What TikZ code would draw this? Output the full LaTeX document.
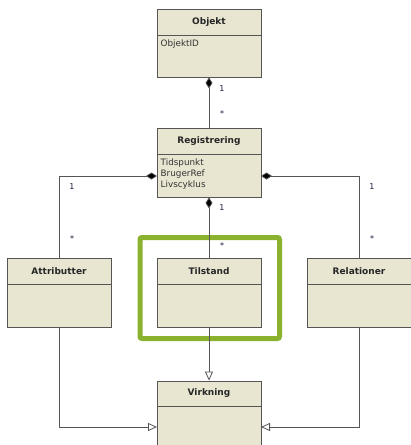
\documentclass[tikz,border=0pt]{standalone}
\usepackage{fontspec}
\setmainfont{DejaVu Sans}
\usetikzlibrary{arrows.meta}
\definecolor{boxfill}{HTML}{E8E5D1}
\definecolor{boxline}{HTML}{555555}
\definecolor{linecol}{HTML}{555555}
\definecolor{hilite}{HTML}{8AB22F}
\definecolor{multcol}{HTML}{1A1A40}
\tikzset{
  cls/.style={draw=boxline, fill=boxfill, line width=0.9pt, rectangle, inner sep=0pt, minimum width=104pt},
  sepline/.style={draw=boxline, line width=0.9pt},
  clstitle/.style={font=\fontsize{9}{10}\selectfont\bfseries, text=black!85, inner sep=0pt},
  attr/.style={font=\fontsize{8.8}{10}\selectfont, text=black!80, inner sep=0pt, anchor=west},
  mult/.style={font=\fontsize{8}{9}\selectfont, text=multcol, inner sep=0pt},
  comp/.style={draw=linecol, line width=0.8pt, {Diamond[length=11pt,width=7pt,fill=black]}-},
  gen/.style={draw=linecol, line width=0.8pt, -{Triangle[open,length=9pt,width=8pt,fill=white]}},
  hibox/.style={draw=hilite, line width=5pt, rounded corners=2pt}
}
\begin{document}
\begin{tikzpicture}[x=1pt,y=-1pt]
\useasboundingbox (0,0) rectangle (411,445);
\clip (0,0) rectangle (411,445);
\fill[white] (0,0) rectangle (411,445);

% highlight
\node[hibox, minimum width=139.5pt, minimum height=101pt] (hl) at (209.75,288) {};

% classes
\node[cls, minimum height=68pt] (obj) at (209,43) {};
\draw[sepline] (157,35) -- (261,35);
\node[clstitle] (objt) at (209,22) {Objekt};
\node[attr] (objid) at (160.5,44) {ObjektID};

\node[cls, minimum height=69pt] (reg) at (209,162.5) {};
\draw[sepline] (157,154) -- (261,154);
\node[clstitle] (regt) at (209,141) {Registrering};
\node[attr] (a1) at (160.5,163) {Tidspunkt};
\node[attr] (a2) at (160.5,174) {BrugerRef};
\node[attr] (a3) at (160.5,185) {Livscyklus};

\node[cls, minimum height=69pt] (att) at (59,292.5) {};
\draw[sepline] (7,284) -- (111,284);
\node[clstitle] (attt) at (59,271) {Attributter};

\node[cls, minimum height=69pt] (til) at (209,292.5) {};
\draw[sepline] (157,284) -- (261,284);
\node[clstitle] (tilt) at (209,271) {Tilstand};

\node[cls, minimum height=69pt] (rel) at (359,292.5) {};
\draw[sepline] (307,284) -- (411,284);
\node[clstitle] (relt) at (359,271) {Relationer};

\node[cls, minimum height=80pt] (vir) at (209,421) {};
\draw[sepline] (157,406) -- (261,406);
\node[clstitle] (virt) at (209,393.5) {Virkning};

% coordinates
\coordinate (regL) at (157,176);
\coordinate (regR) at (261,176);
\coordinate (cornL) at (59,176);
\coordinate (cornR) at (359,176);
\coordinate (virL) at (157,427);
\coordinate (virR) at (261,427);
\coordinate (botL) at (59,427);
\coordinate (botR) at (359,427);

% compositions
\draw[comp] (obj.south) -- (reg.north);
\draw[comp] (regL) -- (cornL) -- (att.north);
\draw[comp] (regR) -- (cornR) -- (rel.north);
\draw[comp] (reg.south) -- (til.north);

% generalisations
\draw[gen] (til.south) -- (vir.north);
\draw[gen] (att.south) -- (botL) -- (virL);
\draw[gen] (rel.south) -- (botR) -- (virR);

% multiplicities
\node[mult] (m1) at (222,89) {1};
\node[mult] (m2) at (222,114) {*};
\node[mult] (m3) at (72,187) {1};
\node[mult] (m4) at (72,239) {*};
\node[mult] (m5) at (372,187) {1};
\node[mult] (m6) at (372,239) {*};
\node[mult] (m7) at (222,208) {1};
\node[mult] (m8) at (222,246) {*};
\end{tikzpicture}
\end{document}
